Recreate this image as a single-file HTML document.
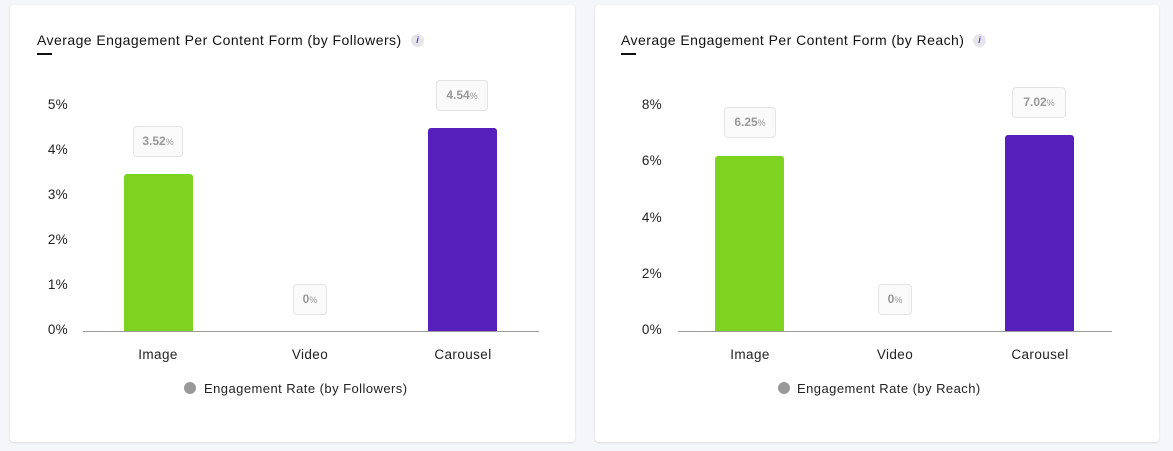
<!DOCTYPE html>
<html><head><meta charset="utf-8"><style>
body{margin:0;width:1173px;height:451px;background:#f5f6fa;position:relative;overflow:hidden;font-family:"Liberation Sans",sans-serif;color:#222}
.card{position:absolute;top:5px;height:437px;background:#fff;border-radius:4px;box-shadow:0 1px 2px rgba(0,0,0,.12)}
.a{position:absolute}
.title{font-size:14px;letter-spacing:0.45px;color:#111;white-space:nowrap}
.ul{height:2px;width:15px;background:#111}
.info{width:13px;height:13px;border-radius:50%;background:#e6e6ea;color:#6a3fc4;font-size:9px;font-style:italic;text-align:center;line-height:13px;font-weight:bold}
.tick{font-size:13.5px;width:40px;text-align:right;color:#222;letter-spacing:0.3px}
.axis{height:1px;background:#9a9a9a}
.bar{border-radius:3px 3px 0 0}
.lbl{border:1px solid #e4e4e4;border-radius:4px;background:#fafafa;color:#999;font-weight:bold;font-size:12px;text-align:center;line-height:29px;height:29px}
.lbl small{font-size:9px;font-weight:normal}
.cat{font-size:13.5px;width:100px;text-align:center;letter-spacing:0.4px}
.leg{font-size:13px;letter-spacing:0.45px;white-space:nowrap}
.dot{width:12px;height:12px;border-radius:50%;background:#999}
</style></head><body>
<div class="card" style="left:10px;width:565px"></div>
<div class="card" style="left:595px;width:564px"></div>

<!-- left -->
<div class="a title" style="left:37px;top:32px">Average Engagement Per Content Form (by Followers)</div>
<div class="a ul" style="left:37px;top:53px"></div>
<div class="a info" style="left:411px;top:34px">i</div>
<div class="a tick" style="left:28px;top:97px">5%</div>
<div class="a tick" style="left:28px;top:142px">4%</div>
<div class="a tick" style="left:28px;top:187px">3%</div>
<div class="a tick" style="left:28px;top:232px">2%</div>
<div class="a tick" style="left:28px;top:277px">1%</div>
<div class="a tick" style="left:28px;top:322px">0%</div>
<div class="a bar" style="left:124px;top:174px;width:69px;height:157px;background:#7ed321"></div>
<div class="a bar" style="left:428px;top:128px;width:69px;height:203px;background:#561fbb"></div>
<div class="a axis" style="left:83px;top:331px;width:456px"></div>
<div class="a lbl" style="left:133px;top:126px;width:48px">3.52<small>%</small></div>
<div class="a lbl" style="left:293px;top:284px;width:32px">0<small>%</small></div>
<div class="a lbl" style="left:436px;top:80px;width:50px">4.54<small>%</small></div>
<div class="a cat" style="left:108px;top:347px">Image</div>
<div class="a cat" style="left:260px;top:347px">Video</div>
<div class="a cat" style="left:413px;top:347px">Carousel</div>
<div class="a dot" style="left:184px;top:382px"></div>
<div class="a leg" style="left:204px;top:381px">Engagement Rate (by Followers)</div>

<!-- right -->
<div class="a title" style="left:621px;top:32px">Average Engagement Per Content Form (by Reach)</div>
<div class="a ul" style="left:621px;top:53px"></div>
<div class="a info" style="left:973px;top:34px">i</div>
<div class="a tick" style="left:622px;top:97px">8%</div>
<div class="a tick" style="left:622px;top:153px">6%</div>
<div class="a tick" style="left:622px;top:210px">4%</div>
<div class="a tick" style="left:622px;top:266px">2%</div>
<div class="a tick" style="left:622px;top:322px">0%</div>
<div class="a bar" style="left:715px;top:156px;width:69px;height:175px;background:#7ed321"></div>
<div class="a bar" style="left:1005px;top:135px;width:69px;height:196px;background:#561fbb"></div>
<div class="a axis" style="left:678px;top:331px;width:434px"></div>
<div class="a lbl" style="left:724px;top:107px;width:50px">6.25<small>%</small></div>
<div class="a lbl" style="left:878px;top:284px;width:32px">0<small>%</small></div>
<div class="a lbl" style="left:1012px;top:87px;width:52px">7.02<small>%</small></div>
<div class="a cat" style="left:700px;top:347px">Image</div>
<div class="a cat" style="left:845px;top:347px">Video</div>
<div class="a cat" style="left:990px;top:347px">Carousel</div>
<div class="a dot" style="left:778px;top:382px"></div>
<div class="a leg" style="left:797px;top:381px">Engagement Rate (by Reach)</div>
</body></html>
